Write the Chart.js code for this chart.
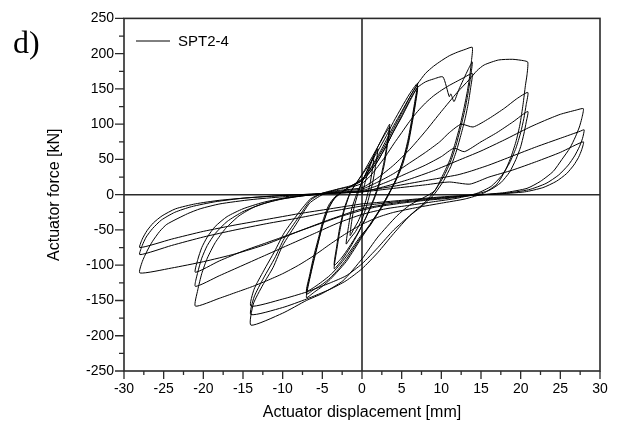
<!DOCTYPE html>
<html>
<head>
<meta charset="utf-8">
<script src="https://cdn.jsdelivr.net/npm/chart.js@4.4.1/dist/chart.umd.min.js"></script>
<style>
  html, body { margin: 0; padding: 0; background: #fff; }
  #wrap { width: 622px; height: 430px; position: relative; }
</style>
</head>
<body>
<div id="wrap"><canvas id="chart" width="622" height="430"></canvas></div>
<script>
// hysteresis record, [displacement mm, force kN]
const seriesLabel = "SPT2-4";

const cyc2 = [
  [0, 0], [0.5, 22], [1, 40], [1.5, 55], [1.3, 35], [1, 15], [0.5, -8], [0, -25], [-0.5, -38], [-1, -48],
  [-1.5, -58], [-1.3, -38], [-1, -18], [-0.5, 2], [0, 18], [0.8, 38], [1.5, 55], [2, 65], [1.7, 40],
  [1.3, 15], [0.6, -15], [0, -35], [-0.8, -52], [-1.5, -62], [-2, -70], [-1.7, -45], [-1.3, -20], [-0.7, 0]
];

const cyc4 = [
  [0, 18], [1, 42], [2, 68], [3, 90], [3.5, 100], [3.2, 75], [2.8, 48], [2.3, 22], [1.5, -5], [0.5, -32],
  [-0.5, -55], [-1.5, -75], [-2.5, -92], [-3.5, -105], [-3.2, -80], [-2.8, -52], [-2.3, -25], [-1.5, 2],
  [-0.5, 20], [0.5, 38], [1.5, 58], [2.5, 78], [3.5, 96], [3.2, 70], [2.8, 42], [2.2, 15], [1.4, -10],
  [0.4, -35], [-0.6, -56], [-1.6, -74], [-2.6, -90], [-3.5, -100], [-3.2, -74], [-2.8, -46], [-2.2, -18], [-1.4, 5]
];

const cyc7 = [
  [0, 28], [1, 44], [2, 62], [3, 82], [4, 104], [5, 124], [6, 143], [7, 158],
  [6.7, 135], [6.3, 108], [5.8, 78], [5.2, 50], [4.4, 25], [3.5, 3], [2.5, -18], [1.2, -40], [0, -60],
  [-1, -78], [-2, -95], [-3, -108], [-4, -120], [-5, -130], [-6, -138], [-7, -146],
  [-6.7, -125], [-6.2, -100], [-5.6, -72], [-5, -45], [-4.3, -22], [-3.5, -6], [-2, 8],
  [0, 22], [1, 36], [2, 55], [3, 76], [4, 98], [5, 118], [6, 138], [7, 155],
  [6.7, 130], [6.3, 103], [5.8, 74], [5.1, 46], [4.3, 22], [3.4, 2], [2.3, -20], [1, -42], [0, -58],
  [-1, -75], [-2, -92], [-3, -106], [-4, -118], [-5, -127], [-6, -134], [-7, -141],
  [-6.6, -118], [-6.1, -93], [-5.5, -66], [-4.9, -40], [-4.2, -18], [-3.4, -4], [-2, 8],
  [0, 20], [1, 32], [2, 48], [3, 68], [4, 90], [5, 110], [6, 132], [7, 152],
  [6.7, 126], [6.3, 100], [5.8, 70], [5.1, 42], [4.2, 18], [3.3, 0], [2.2, -22], [1, -44], [0, -56],
  [-1, -72], [-2, -88], [-3, -102], [-4, -114], [-5, -123], [-6, -131], [-7, -137],
  [-6.6, -114], [-6.1, -88], [-5.5, -62], [-4.9, -36], [-4.2, -15], [-3.4, -3], [-2, 8]
];

const cyc14 = [
  [0, 22], [1, 35], [2, 52], [3, 72], [4, 94], [5, 116], [6, 138], [7, 157], [8, 172], [9, 182],
  [10, 190], [11, 197], [12, 202], [13, 206], [13.9, 209],
  [13.8, 190], [13.6, 170], [13.3, 148], [12.9, 125], [12.4, 100], [11.8, 75], [11.1, 50], [10.2, 28],
  [9.1, 5], [6, -15], [4.4, -30], [2, -60], [0, -91], [-2.4, -122], [-5, -140], [-7, -150], [-10, -168], [-14, -185],
  [-13.7, -155], [-12.5, -128], [-11.2, -103], [-10, -72], [-8.2, -40], [-6.6, -12], [-5, 0], [-3, 8], [-1, 14],
  [0, 20], [1, 32], [2, 48], [3, 68], [4, 90], [5, 112], [6, 134], [7, 152], [8, 160], [9, 164],
  [10.2, 167], [11, 139], [11.2, 143], [11.6, 132], [12.2, 149], [13.4, 178], [13.9, 188],
  [13.7, 168], [13.4, 146], [13, 122], [12.5, 98], [11.9, 72], [11.2, 48], [10.3, 26], [9.2, 6], [8, -10],
  [6, -30], [4, -55], [2, -82], [0, -105], [-2, -122], [-4, -134], [-7, -148], [-10, -160], [-14, -170],
  [-13.6, -145], [-12.4, -118], [-11, -90], [-9.8, -62], [-8, -32], [-6.5, -8], [-5, 2], [-3, 8], [-1, 12],
  [0, 16], [1, 26], [2, 40], [3, 55], [4, 72], [5, 88], [6, 104], [7, 118], [8, 130], [9, 140],
  [10, 148], [11, 155], [12, 161], [13, 167], [13.9, 172],
  [13.7, 152], [13.4, 130], [13, 108], [12.5, 86], [11.9, 62], [11.2, 40], [10.3, 20], [9.2, 2], [8, -12],
  [6, -30], [4, -50], [2, -75], [0, -98], [-2, -115], [-4, -125], [-7, -138], [-10, -148], [-14, -158],
  [-13.6, -134], [-12.4, -108], [-11, -80], [-9.8, -54], [-8, -26], [-6.5, -6], [-5, 2], [-3, 6], [0, 10]
];

const cyc21 = [
  [2, 24], [4, 42], [6, 64], [8, 90], [10, 118], [12, 145], [13.5, 163], [14.5, 176], [15.4, 184],
  [17.2, 191], [19, 192], [20.4, 190], [20.9, 188],
  [20.8, 170], [20.6, 155], [20.3, 128], [19.9, 99], [19.4, 75], [18.7, 51], [18, 33], [17, 15], [15.3, 2],
  [13, -6], [10, -12], [7, -18], [4, -25], [2, -32], [0, -42], [-2, -55], [-4, -70], [-6, -86], [-8, -100],
  [-10, -112], [-12, -122], [-14, -131], [-16, -139], [-18, -147], [-21, -158],
  [-20.7, -135], [-20.2, -112], [-19.5, -90], [-18.5, -68], [-17.2, -48], [-15.5, -30], [-13.5, -17],
  [-11, -8], [-8, -2], [-5, 2], [-2, 6], [0, 8],
  [2, 18], [4, 30], [6, 45], [8, 60], [9.8, 75], [11, 88], [12.5, 100], [14, 96], [16, 108], [18, 123],
  [19.5, 136], [20.9, 145],
  [20.7, 128], [20.4, 108], [20, 88], [19.4, 66], [18.6, 45], [17.6, 27], [16.3, 12], [14.5, 2], [12, -5],
  [9, -10], [6, -15], [3, -20], [0, -28], [-3, -40], [-6, -55], [-9, -70], [-12, -85], [-15, -100],
  [-18, -115], [-21, -130],
  [-20.7, -110], [-20.2, -90], [-19.5, -72], [-18.5, -55], [-17, -38], [-15, -24], [-12.5, -13],
  [-10, -6], [-7, -1], [-4, 3], [0, 6],
  [2, 13], [4, 22], [6, 32], [8, 42], [10, 54], [11.6, 66], [12.9, 61], [15, 75], [17, 88], [19, 103], [20.9, 118],
  [20.7, 103], [20.4, 86], [20, 68], [19.4, 50], [18.6, 32], [17.5, 17], [16, 6], [14, 0], [11, -5],
  [8, -8], [5, -12], [2, -17], [0, -22], [-3, -32], [-6, -44], [-9, -56], [-12, -68], [-15, -80],
  [-18, -94], [-21, -110],
  [-20.7, -92], [-20.2, -75], [-19.5, -60], [-18.5, -45], [-17, -31], [-15, -20], [-12.5, -11],
  [-10, -5], [-7, -1], [-4, 2], [0, 4]
];

const cyc28 = [
  [3, 12], [6, 22], [9, 34], [12, 48], [15, 62], [18, 78], [21, 95], [23, 105], [25, 114], [27, 120], [27.9, 122],
  [27.7, 108], [27.4, 96], [26.9, 82], [26.2, 66], [25.2, 50], [24.1, 33], [22.5, 19], [20.8, 9], [18, 3],
  [15, 0], [12, -3], [8, -7], [4, -12], [0, -20], [-4, -35], [-8, -52], [-12, -70], [-16, -84], [-20, -95],
  [-24, -104], [-28, -111],
  [-27.7, -95], [-27.1, -80], [-26.4, -66], [-25.5, -52], [-24.6, -42], [-22, -27], [-20.4, -20],
  [-17.9, -13], [-14, -7], [-10, -3], [-6, 0], [-3, 3], [0, 5],
  [4, 12], [8, 20], [12, 28], [13.6, 33], [16, 42], [19, 55], [22, 68], [25, 80], [27.5, 90], [28, 92],
  [27.8, 80], [27.4, 68], [26.8, 55], [26, 42], [24.8, 28], [23.2, 16], [21, 7], [18, 2], [14, -1],
  [10, -4], [6, -8], [2, -13], [0, -16], [-4, -24], [-8, -33], [-12, -41], [-16, -50], [-20, -60],
  [-24, -72], [-28, -85],
  [-27.7, -72], [-27.2, -60], [-26.4, -48], [-25.3, -36], [-23.6, -25], [-21.5, -17], [-18.5, -10],
  [-15, -5], [-11, -2], [-6, 1], [0, 4],
  [4, 9], [8, 14], [11, 18], [13.6, 15], [16, 25], [19, 35], [22, 47], [25, 60], [27.9, 75],
  [27.7, 64], [27.3, 53], [26.7, 42], [25.8, 30], [24.5, 19], [22.8, 10], [20.5, 4], [17, 1], [13, -1],
  [9, -4], [5, -8], [1, -12], [0, -13], [-4, -20], [-8, -27], [-12, -35], [-16, -43], [-20, -52],
  [-24, -63], [-28, -75],
  [-27.7, -63], [-27.1, -51], [-26.3, -40], [-25.2, -30], [-23.5, -20], [-21, -13], [-18, -8],
  [-14, -4], [-10, -1], [-6, 1], [-2, 3]
];

const xTicks = [-30, -25, -20, -15, -10, -5, 0, 5, 10, 15, 20, 25, 30];
const yTicks = [-250, -200, -150, -100, -50, 0, 50, 100, 150, 200, 250];

const record = [...cyc2, ...cyc4, ...cyc7, ...cyc14, ...cyc21, ...cyc28].map(p => ({ x: p[0], y: p[1] }));

const frameColor = "#2a2a2a";

// frame, zero lines, tick marks, legend and panel letter
const decor = {
  id: "decor",
  beforeDatasetsDraw(chart) {
    const { ctx, chartArea: a, scales: { x, y } } = chart;
    const x0 = x.getPixelForValue(0);
    const y0 = y.getPixelForValue(0);
    ctx.save();
    ctx.strokeStyle = frameColor;
    ctx.lineWidth = 1.6;
    ctx.beginPath();
    ctx.moveTo(a.left, y0);
    ctx.lineTo(a.right, y0);
    ctx.moveTo(x0, a.top);
    ctx.lineTo(x0, a.bottom);
    ctx.stroke();
    ctx.restore();
  },
  afterDraw(chart) {
    const { ctx, chartArea: a, scales: { x, y } } = chart;
    ctx.save();
    ctx.strokeStyle = frameColor;
    ctx.lineWidth = 1.6;
    ctx.strokeRect(a.left, a.top, a.right - a.left, a.bottom - a.top);

    ctx.lineWidth = 1.3;
    ctx.beginPath();
    for (let i = 0; i < xTicks.length; i++) {
      const px = x.getPixelForValue(xTicks[i]);
      ctx.moveTo(px, a.bottom);
      ctx.lineTo(px, a.bottom + 8);
      if (i < xTicks.length - 1) {
        const pm = x.getPixelForValue((xTicks[i] + xTicks[i + 1]) / 2);
        ctx.moveTo(pm, a.bottom);
        ctx.lineTo(pm, a.bottom + 4);
      }
    }
    for (let i = 0; i < yTicks.length; i++) {
      const py = y.getPixelForValue(yTicks[i]);
      ctx.moveTo(a.left, py);
      ctx.lineTo(a.left - 9, py);
      if (i < yTicks.length - 1) {
        const pm = y.getPixelForValue((yTicks[i] + yTicks[i + 1]) / 2);
        ctx.moveTo(a.left, pm);
        ctx.lineTo(a.left - 5, pm);
      }
    }
    ctx.stroke();

    // legend
    ctx.strokeStyle = "#000";
    ctx.lineWidth = 1;
    ctx.beginPath();
    ctx.moveTo(136, 41);
    ctx.lineTo(170, 41);
    ctx.stroke();
    ctx.fillStyle = "#000";
    ctx.font = "15px 'Liberation Sans', Arial, sans-serif";
    ctx.textBaseline = "middle";
    ctx.textAlign = "left";
    ctx.fillText(seriesLabel, 178, 42);

    ctx.font = "32px 'Liberation Serif', 'Times New Roman', serif";
    ctx.textBaseline = "alphabetic";
    ctx.fillText("d)", 13, 53);
    ctx.restore();
  }
};

const chart = new Chart(document.getElementById("chart"), {
  type: "line",
  data: {
    datasets: [{
      label: seriesLabel,
      data: record,
      borderColor: "#000",
      borderWidth: 1,
      pointRadius: 0,
      fill: false,
      tension: 0.2
    }]
  },
  options: {
    responsive: false,
    animation: false,
    layout: { padding: { left: 0, right: 22, top: 16, bottom: 0 } },
    plugins: {
      legend: { display: false },
      tooltip: { enabled: false }
    },
    scales: {
      x: {
        type: "linear",
        min: -30,
        max: 30,
        afterBuildTicks: s => { s.ticks = xTicks.map(v => ({ value: v })); },
        afterFit: s => { s.height = 59; },
        grid: { display: false, drawTicks: false },
        border: { display: false },
        ticks: {
          color: "#000",
          padding: 10,
          maxRotation: 0,
          font: { family: "'Liberation Sans', Arial, sans-serif", size: 14 }
        },
        title: {
          display: true,
          text: "Actuator displacement [mm]",
          color: "#000",
          padding: { top: 0, bottom: 8 },
          font: { family: "'Liberation Sans', Arial, sans-serif", size: 16 }
        }
      },
      y: {
        type: "linear",
        min: -250,
        max: 250,
        afterBuildTicks: s => { s.ticks = yTicks.map(v => ({ value: v })); },
        afterFit: s => { s.width = 124; },
        grid: { display: false, drawTicks: false },
        border: { display: false },
        ticks: {
          color: "#000",
          padding: 10,
          font: { family: "'Liberation Sans', Arial, sans-serif", size: 14 }
        },
        title: {
          display: true,
          text: "Actuator force [kN]",
          color: "#000",
          padding: { top: 45, bottom: 0 },
          font: { family: "'Liberation Sans', Arial, sans-serif", size: 16 }
        }
      }
    }
  },
  plugins: [decor]
});
</script>
</body>
</html>
